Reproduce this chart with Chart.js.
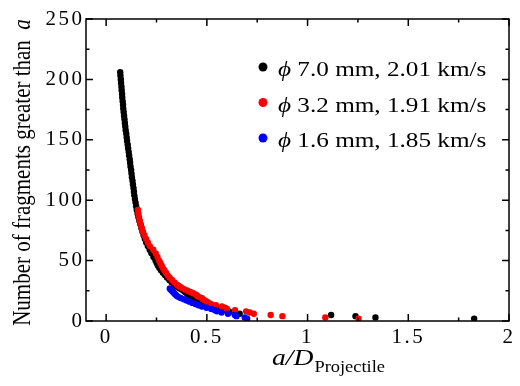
<!DOCTYPE html>
<html>
<head>
<meta charset="utf-8">
<script src="https://cdn.jsdelivr.net/npm/chart.js@4.4.1/dist/chart.umd.min.js"></script>
<style>
  html, body { margin: 0; padding: 0; background: #fff; }
</style>
</head>
<body>
<canvas id="chart" width="520" height="386"></canvas>
<script>
/* Cumulative fragment counts vs a/D, three projectile sizes */

const xTicks = [0, 0.5, 1, 1.5, 2];
const xMinorTicks = [0.25, 0.75, 1.25, 1.75];
const yTicks = [0, 50, 100, 150, 200, 250];
const yMinorTicks = [25, 75, 125, 175, 225];

const legendLabels = ['7.0 mm, 2.01 km/s', '3.2 mm, 1.91 km/s', '1.6 mm, 1.85 km/s'];
const seriesColors = ['#000000', '#ff0000', '#0000ff'];

// phi 7.0 mm (black)
const blackY = [206, 203, 200, 197, 194, 191, 188, 185, 182, 179, 176, 173, 170, 167, 164, 161,
  158, 155, 152, 149, 146, 143, 140, 137, 134, 131, 128, 125, 122, 119, 116, 113, 110, 107, 104,
  101, 98, 95, 92, 89, 86, 83, 80, 77, 74, 71, 68, 65, 62, 59, 56, 53, 50, 48, 46, 44, 42, 40,
  38, 36, 34, 32, 30, 29, 28, 27, 26, 25, 24, 23, 22, 21, 20, 19, 18, 17, 16, 15, 14, 13, 12,
  11, 10, 9, 8, 7, 6, 5, 4, 3, 2];
const blackX = [0.070, 0.071, 0.073, 0.074, 0.076, 0.077, 0.079, 0.080, 0.082, 0.084, 0.085, 0.087,
  0.089, 0.091, 0.093, 0.095, 0.097, 0.100, 0.102, 0.104, 0.107, 0.109, 0.112, 0.114, 0.117,
  0.119, 0.121, 0.124, 0.126, 0.128, 0.131, 0.133, 0.136, 0.138, 0.140, 0.143, 0.146, 0.149,
  0.152, 0.156, 0.160, 0.165, 0.170, 0.175, 0.180, 0.186, 0.192, 0.199, 0.207, 0.216, 0.225,
  0.235, 0.245, 0.251, 0.257, 0.264, 0.272, 0.282, 0.292, 0.302, 0.314, 0.325, 0.338, 0.346,
  0.356, 0.366, 0.376, 0.385, 0.392, 0.400, 0.407, 0.414, 0.420, 0.428, 0.436, 0.450, 0.468,
  0.485, 0.500, 0.515, 0.530, 0.545, 0.560, 0.585, 0.610, 0.635, 0.663, 1.117, 1.238, 1.337, 1.827];

// phi 3.2 mm (red)
const redY = [92, 89, 86, 83, 80, 77, 74, 71, 68, 65, 62, 59, 56, 53, 50, 48, 46, 44, 42, 40, 38,
  36, 34, 32, 30, 29, 28, 27, 26, 25, 24, 23, 22, 21, 20, 19, 18, 17, 16, 15, 14, 13, 12, 11, 10,
  9, 8, 7, 6, 5, 4, 3, 2];
const redX = [0.158, 0.160, 0.163, 0.167, 0.172, 0.177, 0.183, 0.190, 0.198, 0.207, 0.217, 0.234,
  0.246, 0.255, 0.263, 0.269, 0.275, 0.281, 0.289, 0.297, 0.305, 0.315, 0.327, 0.339, 0.352,
  0.360, 0.370, 0.380, 0.392, 0.405, 0.418, 0.432, 0.445, 0.452, 0.460, 0.474, 0.480, 0.490,
  0.500, 0.510, 0.522, 0.545, 0.575, 0.590, 0.600, 0.640, 0.695, 0.713, 0.733, 0.817, 0.875,
  1.088, 1.253];

// phi 1.6 mm (blue)
const blueY = [27, 26, 25, 24, 23, 22, 21, 20, 19, 18, 17, 16, 15, 14, 13, 12, 11, 10, 9, 8, 7, 6,
  5, 4, 3, 2];
const blueX = [0.316, 0.320, 0.326, 0.332, 0.338, 0.344, 0.350, 0.358, 0.370, 0.385, 0.400, 0.414,
  0.428, 0.443, 0.458, 0.475, 0.498, 0.522, 0.540, 0.550, 0.573, 0.605, 0.639, 0.647, 0.688, 0.700];

const serif = "'Liberation Serif', 'Times New Roman', Times, serif";
const tickFont = { family: serif, size: 21 };

function toPoints(xs, ys) {
  return xs.map((x, i) => ({ x, y: ys[i] }));
}

// the source figure is set wide, so stretch custom text a little
function wideText(ctx, text, x, y, sx) {
  ctx.save();
  ctx.translate(x, y);
  ctx.scale(sx, 1);
  ctx.fillText(text, 0, 0);
  const w = ctx.measureText(text).width * sx;
  ctx.restore();
  return w;
}

const framePlugin = {
  id: 'frame',
  beforeDraw(chart) {
    chart.ctx.letterSpacing = '2.5px';
  },
  beforeDatasetsDraw(chart) {
    chart.ctx.letterSpacing = '0px';
  },
  afterDraw(chart) {
    const { ctx, chartArea: a } = chart;
    const xs = chart.scales.x;
    const ys = chart.scales.y;
    ctx.save();
    ctx.letterSpacing = '0px';
    ctx.strokeStyle = '#000';
    ctx.lineWidth = 1.5;
    ctx.strokeRect(a.left, a.top, a.right - a.left, a.bottom - a.top);

    ctx.beginPath();
    const xMark = (v, len) => {
      const px = xs.getPixelForValue(v);
      ctx.moveTo(px, a.bottom); ctx.lineTo(px, a.bottom - len);
      ctx.moveTo(px, a.top); ctx.lineTo(px, a.top + len);
    };
    const yMark = (v, len) => {
      const py = ys.getPixelForValue(v);
      ctx.moveTo(a.left, py); ctx.lineTo(a.left + len, py);
      ctx.moveTo(a.right, py); ctx.lineTo(a.right - len, py);
    };
    xTicks.forEach(v => xMark(v, 7));
    xMinorTicks.forEach(v => xMark(v, 3.5));
    yTicks.forEach(v => yMark(v, 7));
    yMinorTicks.forEach(v => yMark(v, 3.5));
    ctx.stroke();

    ctx.fillStyle = '#000';
    ctx.textBaseline = 'alphabetic';

    // y title
    ctx.save();
    const t1 = 'Number of fragments greater than  ';
    ctx.font = 'italic 21px ' + serif;
    const wa = ctx.measureText('a').width;
    ctx.font = '21px ' + serif;
    const w1 = ctx.measureText(t1).width;
    ctx.translate(30, 172.5);
    ctx.scale(1.2, 1);
    ctx.rotate(-Math.PI / 2);
    ctx.fillText(t1, -(w1 + wa) / 2, 0);
    ctx.font = 'italic 21px ' + serif;
    ctx.fillText('a', -(w1 + wa) / 2 + w1, 0);
    ctx.restore();

    // x title
    ctx.font = 'italic 23px ' + serif;
    const w = wideText(ctx, 'a/D', 272, 365, 1.2);
    ctx.font = '16px ' + serif;
    wideText(ctx, 'Projectile', 272 + w + 1, 372, 1.15);

    // legend
    const rows = [67, 102.5, 138];
    rows.forEach((ry, i) => {
      ctx.fillStyle = seriesColors[i];
      ctx.beginPath();
      ctx.arc(263, ry, 4.5, 0, Math.PI * 2);
      ctx.fill();
      ctx.fillStyle = '#000';
      ctx.font = 'italic 21px ' + serif;
      const wp = wideText(ctx, '\u03d5', 278, ry + 9, 1.2);
      ctx.font = '21px ' + serif;
      wideText(ctx, ' ' + legendLabels[i], 278 + wp, ry + 9, 1.2);
    });
    ctx.restore();
  }
};

const datasets = [
  { label: legendLabels[0], data: toPoints(blackX, blackY), backgroundColor: seriesColors[0], order: 3 },
  { label: legendLabels[1], data: toPoints(redX, redY), backgroundColor: seriesColors[1], order: 2 },
  { label: legendLabels[2], data: toPoints(blueX, blueY), backgroundColor: seriesColors[2], order: 1 },
];

new Chart(document.getElementById('chart'), {
  type: 'scatter',
  data: { datasets },
  options: {
    responsive: false,
    animation: false,
    layout: { padding: { top: 19, right: 11, left: 0, bottom: 0 } },
    elements: { point: { radius: 3.2, hoverRadius: 3.2, borderWidth: 0 } },
    plugins: { legend: { display: false }, tooltip: { enabled: false } },
    scales: {
      x: {
        type: 'linear', min: -0.1, max: 2,
        grid: { display: false, drawTicks: false },
        border: { display: false },
        afterBuildTicks: s => { s.ticks = xTicks.map(v => ({ value: v })); },
        afterFit: s => { s.height = 65; },
        ticks: { font: tickFont, color: '#000', padding: 4, maxRotation: 0, callback: v => String(v) },
      },
      y: {
        type: 'linear', min: 0, max: 250,
        grid: { display: false, drawTicks: false },
        border: { display: false },
        afterBuildTicks: s => { s.ticks = yTicks.map(v => ({ value: v })); },
        afterFit: s => { s.width = 86; },
        ticks: { font: tickFont, color: '#000', padding: 1.5, callback: v => String(v) },
      },
    },
  },
  plugins: [framePlugin],
});
</script>
</body>
</html>
